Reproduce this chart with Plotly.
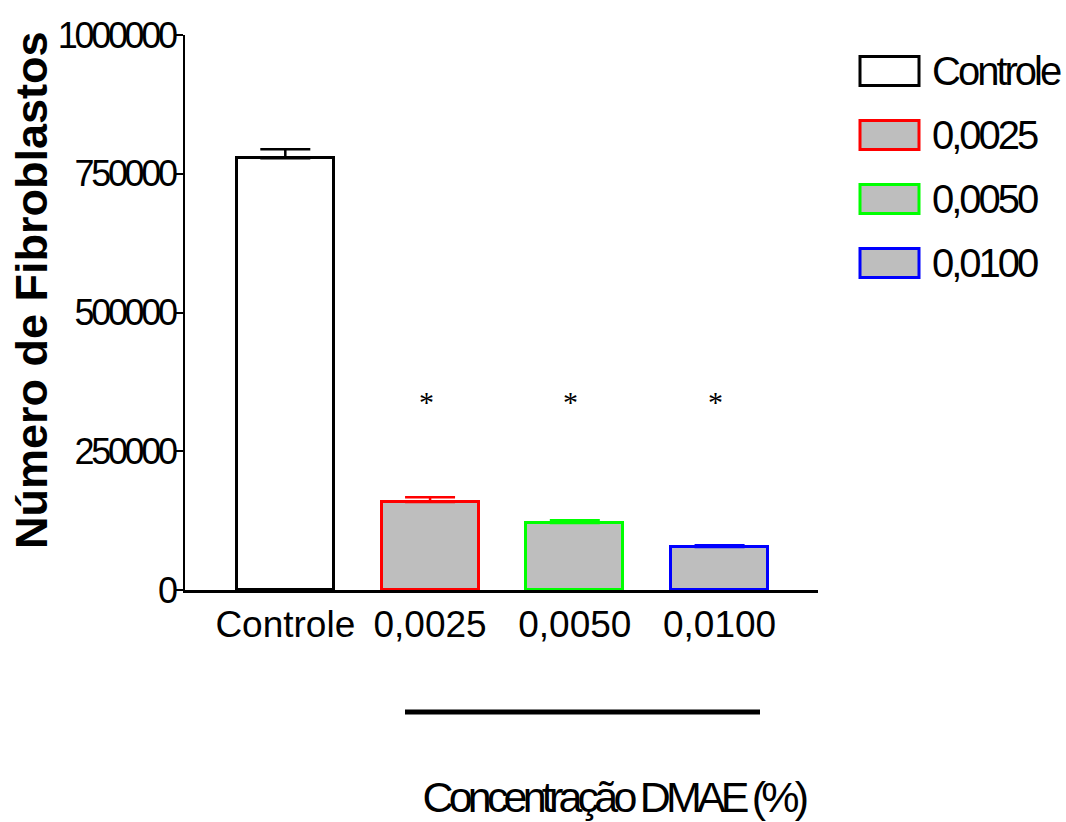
import plotly.graph_objects as go

categories = ["Controle", "0,0025", "0,0050", "0,0100"]
means = [778000, 158500, 120500, 77500]
sem = [16000, 8500, 5000, 3000]
fill_colors = ["#FFFFFF", "#BEBEBE", "#BEBEBE", "#BEBEBE"]
line_colors = ["#000000", "#FF0000", "#00FF00", "#0000FF"]
signif = ["", "*", "*", "*"]
sig_level = 340000
y_ticks = [0, 250000, 500000, 750000, 1000000]
x_title = "Concentração DMAE (%)"
y_title = "Número de Fibroblastos"

SANS = "Liberation Sans, Arial, sans-serif"

fig = go.Figure()
for i, cat in enumerate(categories):
    fig.add_trace(go.Bar(
        x=[i], y=[means[i]], width=0.67, name=cat,
        marker=dict(color=fill_colors[i], line=dict(color=line_colors[i], width=3)),
        error_y=dict(type="data", array=[sem[i]], arrayminus=[0], symmetric=False,
                     color=line_colors[i], thickness=2.5, width=25),
        showlegend=False,
    ))

# significance asterisks
for i, s in enumerate(signif):
    if s:
        fig.add_annotation(x=i, y=sig_level, text=s, showarrow=False, xshift=-4,
                           font=dict(family="Liberation Serif, Times New Roman, serif", size=30, color="black"))

# manual legend
row_h = 64 / 555.0
for i, cat in enumerate(categories):
    yc = (590 - 71) / 555.0 - i * row_h
    x0 = (860 - 185) / 633.0
    x1 = (919 - 185) / 633.0
    fig.add_shape(type="rect", xref="paper", yref="paper",
                  x0=x0, x1=x1, y0=yc - 14.5 / 555, y1=yc + 14.5 / 555,
                  fillcolor=fill_colors[i], line=dict(color=line_colors[i], width=3))
    fig.add_annotation(xref="paper", yref="paper", x=(930 - 185) / 633.0, y=yc,
                       xanchor="left", yanchor="middle", align="left", text=cat,
                       showarrow=False,
                       font=dict(family=SANS, size=40, color="black"))

# bracket line under categories
fig.add_shape(type="line", xref="paper", yref="paper",
              x0=(405 - 185) / 633.0, x1=(760 - 185) / 633.0,
              y0=(590 - 712) / 555.0, y1=(590 - 712) / 555.0,
              line=dict(color="black", width=5))

# x title
fig.add_annotation(xref="paper", yref="paper", x=(613 - 185) / 633.0, y=(590 - 797) / 555.0,
                   xanchor="center", yanchor="middle", text=x_title, showarrow=False,
                   font=dict(family=SANS, size=43, color="black"))

# y title
fig.add_annotation(xref="paper", yref="paper", x=(31 - 185) / 633.0, y=(590 - 290) / 555.0,
                   xanchor="center", yanchor="middle", text="<b>" + y_title + "</b>",
                   textangle=-90, showarrow=False,
                   font=dict(family=SANS, size=45, color="black"))

fig.update_layout(
    width=1066, height=822,
    margin=dict(l=185, r=248, t=35, b=232),
    plot_bgcolor="white", paper_bgcolor="white",
    bargap=0,
)
fig.update_xaxes(
    range=[-0.693, 3.68], tickmode="array", tickvals=list(range(len(categories))),
    ticktext=categories, showline=True, linecolor="black", linewidth=2.5,
    showgrid=False, zeroline=False, ticks="", ticklen=0,
    tickfont=dict(family=SANS, size=37, color="black"),
)
fig.update_yaxes(
    range=[0, 1000000], tickmode="array", tickvals=y_ticks,
    ticktext=[str(v) for v in y_ticks], showline=True, linecolor="black", linewidth=2,
    showgrid=False, zeroline=False, ticks="outside", ticklen=8, tickwidth=2, tickcolor="black",
    tickfont=dict(family=SANS, size=36, color="black"),
)

# tighten letter spacing like the original (GraphPad-style condensed text)
post_js = """
var gd = document.getElementById('{plot_id}');
var legendNames = %s;
var xTitle = %s;
function tighten() {
  gd.querySelectorAll('.ytick text').forEach(function (t) {
    t.setAttribute('letter-spacing', '-3.3px');
    t.setAttribute('dx', '7');
  });
  gd.querySelectorAll('.annotation-text').forEach(function (t) {
    var s = t.textContent;
    if (legendNames.indexOf(s) >= 0) t.setAttribute('letter-spacing', '-3px');
    if (s === xTitle) t.setAttribute('letter-spacing', '-4.8px');
  });
}
tighten();
gd.on('plotly_afterplot', tighten);
""" % (str(categories).replace("'", '"'), '"' + x_title + '"')

fig.write_html("out.html", post_script=post_js)
